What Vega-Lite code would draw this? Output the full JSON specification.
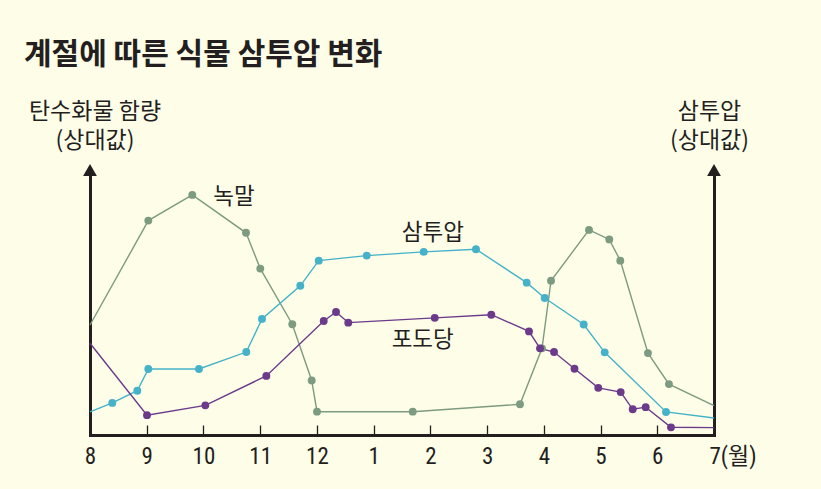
{
  "$schema": "https://vega.github.io/schema/vega-lite/v6.json",
  "width": 624,
  "height": 265,
  "autosize": {"type": "none"},
  "padding": {"left": 90, "top": 170, "right": 107, "bottom": 54},
  "background": "#fefde8",
  "title": {
    "text": "계절에 따른 식물 삼투압 변화",
    "anchor": "start",
    "frame": "group",
    "font": "Noto Sans CJK KR",
    "fontSize": 30,
    "fontWeight": "bold",
    "color": "#231f20",
    "dx": -66,
    "offset": 30
  },
  "config": {
    "view": {"stroke": null},
    "axis": {"grid": false}
  },
  "datasets": {
    "main": [
      {"series": "녹말", "x": 0, "y": 41.5},
      {"series": "녹말", "x": 1.028, "y": 80.9},
      {"series": "녹말", "x": 1.803, "y": 90.6},
      {"series": "녹말", "x": 2.75, "y": 76.3},
      {"series": "녹말", "x": 3.002, "y": 62.8},
      {"series": "녹말", "x": 3.566, "y": 41.8},
      {"series": "녹말", "x": 3.908, "y": 20.6},
      {"series": "녹말", "x": 4.002, "y": 8.8},
      {"series": "녹말", "x": 5.689, "y": 8.8},
      {"series": "녹말", "x": 7.58, "y": 11.6},
      {"series": "녹말", "x": 7.968, "y": 32.7},
      {"series": "녹말", "x": 8.127, "y": 58.2},
      {"series": "녹말", "x": 8.797, "y": 77.4},
      {"series": "녹말", "x": 9.154, "y": 73.8},
      {"series": "녹말", "x": 9.348, "y": 65.8},
      {"series": "녹말", "x": 9.836, "y": 30.9},
      {"series": "녹말", "x": 10.206, "y": 19.2},
      {"series": "녹말", "x": 11, "y": 11.1},
      {"series": "삼투압", "x": 0, "y": 8.7},
      {"series": "삼투압", "x": 0.393, "y": 12.1},
      {"series": "삼투압", "x": 0.834, "y": 16.7},
      {"series": "삼투압", "x": 1.028, "y": 24.9},
      {"series": "삼투압", "x": 1.921, "y": 24.9},
      {"series": "삼투압", "x": 2.755, "y": 31.3},
      {"series": "삼투압", "x": 3.032, "y": 43.8},
      {"series": "삼투압", "x": 3.707, "y": 56.3},
      {"series": "삼투압", "x": 4.032, "y": 65.8},
      {"series": "삼투압", "x": 4.878, "y": 67.7},
      {"series": "삼투압", "x": 5.883, "y": 69.1},
      {"series": "삼투압", "x": 6.804, "y": 70.1},
      {"series": "삼투압", "x": 7.698, "y": 57.5},
      {"series": "삼투압", "x": 8.016, "y": 51.7},
      {"series": "삼투압", "x": 8.703, "y": 41.7},
      {"series": "삼투압", "x": 9.073, "y": 31.2},
      {"series": "삼투압", "x": 10.154, "y": 8.7},
      {"series": "삼투압", "x": 11, "y": 6.4},
      {"series": "포도당", "x": 0, "y": 34.6},
      {"series": "포도당", "x": 1.005, "y": 7.5},
      {"series": "포도당", "x": 2.033, "y": 11.2},
      {"series": "포도당", "x": 3.108, "y": 22.3},
      {"series": "포도당", "x": 4.12, "y": 43.0},
      {"series": "포도당", "x": 4.337, "y": 46.4},
      {"series": "포도당", "x": 4.553, "y": 42.4},
      {"series": "포도당", "x": 6.077, "y": 44.2},
      {"series": "포도당", "x": 7.074, "y": 45.4},
      {"series": "포도당", "x": 7.739, "y": 39.1},
      {"series": "포도당", "x": 7.933, "y": 32.7},
      {"series": "포도당", "x": 8.18, "y": 31.3},
      {"series": "포도당", "x": 8.541, "y": 25.0},
      {"series": "포도당", "x": 8.96, "y": 17.8},
      {"series": "포도당", "x": 9.355, "y": 16.2},
      {"series": "포도당", "x": 9.567, "y": 9.7},
      {"series": "포도당", "x": 9.796, "y": 10.5},
      {"series": "포도당", "x": 10.242, "y": 2.9},
      {"series": "포도당", "x": 11, "y": 2.8}
    ],
    "arrows": [{"x": 0, "y": 100}, {"x": 11, "y": 100}],
    "labels": [
      {"text": "녹말", "x": 2.538, "y": 90.0},
      {"text": "삼투압", "x": 6.045, "y": 76.4},
      {"text": "포도당", "x": 5.865, "y": 35.8}
    ]
  },
  "encoding": {
    "x": {
      "field": "x",
      "type": "quantitative",
      "scale": {"domain": [0, 11], "nice": false, "zero": false},
      "axis": {
        "title": null,
        "values": [0, 1, 2, 3, 4, 5, 6, 7, 8, 9, 10, 11],
        "labelExpr": "['8','9','10','11','12','1','2','3','4','5','6','7(월)'][datum.value]",
        "labelAlign": {"condition": {"test": "datum.value == 11", "value": "left"}, "value": "center"},
        "labelOffset": {"condition": {"test": "datum.value == 11", "value": -5}, "value": 0},
        "domainColor": "#231f20",
        "domainWidth": 3,
        "domainCap": "square",
        "tickColor": "#231f20",
        "tickWidth": 1.3,
        "tickSize": -10,
        "labelPadding": 20,
        "labelFont": "Liberation Sans Narrow, Roboto Condensed, Noto Sans CJK KR",
        "labelFontSize": 23,
        "labelColor": "#231f20",
        "labelBaseline": "top",
        "labelFlush": false,
        "labelOverlap": false
      }
    },
    "y": {
      "field": "y",
      "type": "quantitative",
      "scale": {"domain": [0, 100], "nice": false, "zero": false},
      "axis": null
    }
  },
  "resolve": {"axis": {"y": "independent"}},
  "layer": [
    {
      "data": {"name": "main"},
      "mark": {"type": "line", "strokeWidth": 1.4},
      "encoding": {
        "y": {
          "field": "y",
          "type": "quantitative",
          "scale": {"domain": [0, 100], "nice": false, "zero": false},
          "axis": {
            "orient": "left",
            "title": ["탄수화물 함량", "(상대값)"],
            "titleAngle": 0,
            "titleAlign": "center",
            "titleBaseline": "middle",
            "titleX": 4.5,
            "titleY": -59,
            "titleLineHeight": 29,
            "titleFont": "Noto Sans CJK KR",
            "titleFontSize": 23,
            "titleFontWeight": "normal",
            "titleColor": "#231f20",
            "domain": true,
            "domainColor": "#231f20",
            "domainWidth": 3,
            "domainCap": "square",
            "ticks": false,
            "labels": false
          }
        },
        "color": {
          "field": "series",
          "type": "nominal",
          "scale": {"domain": ["포도당", "삼투압", "녹말"], "range": ["#6b3a8b", "#45b2c9", "#7d9b80"]},
          "legend": null
        }
      }
    },
    {
      "data": {"name": "main"},
      "transform": [{"filter": "datum.x > 0 && datum.x < 11"}],
      "mark": {"type": "circle", "size": 62, "opacity": 1},
      "encoding": {
        "y": {
          "field": "y",
          "type": "quantitative",
          "scale": {"domain": [0, 100], "nice": false, "zero": false},
          "axis": {
            "orient": "right",
            "title": ["삼투압", "(상대값)"],
            "titleAngle": 0,
            "titleAlign": "center",
            "titleBaseline": "middle",
            "titleX": -5,
            "titleY": -59,
            "titleLineHeight": 29,
            "titleFont": "Noto Sans CJK KR",
            "titleFontSize": 23,
            "titleFontWeight": "normal",
            "titleColor": "#231f20",
            "domain": true,
            "domainColor": "#231f20",
            "domainWidth": 3,
            "domainCap": "square",
            "ticks": false,
            "labels": false
          }
        },
        "color": {
          "field": "series",
          "type": "nominal",
          "scale": {"domain": ["포도당", "삼투압", "녹말"], "range": ["#6b3a8b", "#45b2c9", "#7d9b80"]},
          "legend": null
        }
      }
    },
    {
      "data": {"name": "arrows"},
      "mark": {"type": "point", "shape": "triangle-up", "size": 190, "filled": true, "color": "#231f20", "opacity": 1, "clip": false}
    },
    {
      "data": {"name": "labels"},
      "mark": {"type": "text", "font": "Noto Sans CJK KR", "fontSize": 22.5, "color": "#231f20", "align": "center", "baseline": "middle"},
      "encoding": {
        "text": {"field": "text"}
      }
    }
  ]
}
